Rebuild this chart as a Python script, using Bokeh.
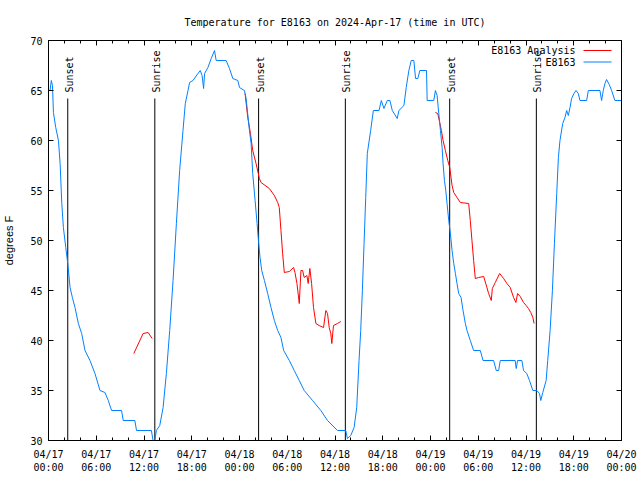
import math
from bokeh.plotting import figure
from bokeh.models import Range1d, FixedTicker, LinearAxis, Label, Arrow
from bokeh.core.properties import value
from bokeh.embed import file_html
from bokeh.resources import INLINE

title_text = "Temperature for E8163 on 2024-Apr-17 (time in UTC)"
y_label = "degrees F"

# x positions are hours since 2024-04-17 00:00 UTC
x_tick_hours = [0, 6, 12, 18, 24, 30, 36, 42, 48, 54, 60, 66, 72]
x_tick_labels = ["04/17\n00:00", "04/17\n06:00", "04/17\n12:00", "04/17\n18:00",
                 "04/18\n00:00", "04/18\n06:00", "04/18\n12:00", "04/18\n18:00",
                 "04/19\n00:00", "04/19\n06:00", "04/19\n12:00", "04/19\n18:00",
                 "04/20\n00:00"]
x_minor_hours = list(range(0, 73, 2))
y_ticks = [30, 35, 40, 45, 50, 55, 60, 65, 70]

obs_hours = [0.0, 0.2, 0.35, 0.5, 0.62, 0.91, 1.25, 1.46, 1.67, 1.87, 2.17, 2.42, 2.71, 3.0,
             3.33, 3.75, 4.17, 4.59, 5.21, 5.84, 6.47, 7.09, 7.51, 7.93, 9.18, 9.39, 10.85,
             11.06, 12.93, 13.14, 13.35, 13.56, 13.98, 14.4, 14.81, 15.23, 15.65, 16.07,
             16.48, 16.9, 17.19, 17.53, 17.73, 18.15, 18.78, 19.07, 19.3, 19.49, 19.61,
             20.03, 20.45, 20.86, 21.07, 22.32, 22.74, 23.16, 23.79, 24.0, 24.62, 24.83,
             25.25, 25.46, 25.66, 25.96, 26.21, 26.38, 26.58, 26.79, 27.13, 27.54, 27.96,
             28.38, 28.8, 29.21, 29.55, 30.26, 30.88, 31.51, 32.13, 33.18, 34.22, 35.06,
             36.31, 37.35, 37.56, 37.98, 38.4, 38.73, 39.02, 39.23, 39.44, 39.65, 39.86,
             40.06, 40.48, 40.82, 41.53, 41.82, 42.15, 42.57, 42.9, 43.2, 43.82, 44.03,
             44.66, 44.95, 45.28, 45.58, 45.91, 46.12, 46.41, 46.66, 47.5, 47.58, 48.41,
             48.62, 48.83, 49.04, 49.25, 49.46, 49.58, 49.75, 49.92, 50.08, 50.29, 50.5,
             50.71, 50.92, 51.13, 51.33, 51.54, 51.84, 52.09, 52.38, 52.59, 53.0, 53.42,
             54.26, 54.6, 55.93, 56.26, 56.56, 56.77, 58.64, 58.77, 58.94, 59.48, 59.69,
             60.1, 60.44, 60.86, 61.36, 61.7, 61.86, 62.11, 62.53, 62.73, 63.03, 63.32,
             63.57, 63.86, 64.07, 64.27, 64.61, 64.9, 65.11, 65.32, 65.53, 65.73, 66.03,
             66.28, 66.57, 66.78, 67.62, 67.83, 69.29, 69.5, 69.71, 69.92, 70.12, 70.46,
             70.76, 71.17, 72.0]
obs_temp = [65, 65, 66, 65.5, 62.8, 61.3, 60, 57.7, 53.7, 51.3, 49.3, 47.7, 45.3, 44.3,
            43.3, 41.7, 40.7, 39, 38, 36.7, 35, 34.8, 34, 33, 33, 32, 32,
            31, 31, 30, 30, 31, 31.5, 33.3, 36.7, 41, 46, 51.7,
            57, 61, 63.7, 65, 65.8, 66, 66.7, 67, 66.5, 65.2, 66.7,
            67.3, 68.2, 69, 68, 68, 67.2, 66.2, 66, 65.3, 65, 64.2,
            61, 59.7, 56.7, 54, 51.7, 50, 48.3, 47, 46, 44.7, 43.3,
            42, 41, 40.3, 39, 38, 37, 36, 35, 34, 33, 32,
            31, 31, 30.2, 30.5, 31.3, 33.3, 38, 41, 45, 49.7, 54.3,
            58.7, 61, 63, 63, 64, 63.2, 64, 64, 63, 62.2, 63,
            63.5, 65.3, 67, 68, 68, 66.2, 66.2, 67, 67, 64, 64,
            65, 64.5, 62.7, 61, 59.3, 57.7, 56, 55, 53.7, 52, 50.7,
            49, 47.7, 46.7, 45.7, 44.7, 44.3, 43, 41.7, 41, 40, 39,
            39, 38, 38, 37, 37, 38, 38, 37.2, 38, 38, 37,
            36.7, 36, 35, 35, 34.7, 34, 34.8, 36, 38, 41, 45,
            49.7, 54.7, 58.3, 60, 61.7, 62.3, 63, 62.5, 63.3, 64.2, 64.7,
            65, 64.7, 64, 64, 65, 65, 64, 65, 65.7, 66.1, 65.6,
            65, 64, 64]

nan = float("nan")
ana_hours = [10.72, 11.89, 12.52, 13.02, nan,
             24.7, 25.04, 25.38, 25.66, 26.08, 26.5, 26.71, 27.75, 28.38, 28.8, 29.0, 29.21,
             29.42, 29.63, 30.26, 30.8, 30.97, 31.22, 31.51, 31.72, 31.93, 32.13, 32.47,
             32.63, 32.84, 33.06, 33.3, 33.6, 34.0, 34.56, 34.85, 35.06, 35.27, 35.47, 35.6,
             35.81, 36.31, 36.73, nan,
             48.62, 48.91, 49.16, 49.37, 49.58, 49.87, 50.17, 50.42, 50.58, 50.71, 50.92,
             51.33, 51.75, 52.8, 53.0, 53.21, 53.42, 53.63, 54.05, 54.68, 55.09, 55.3, 55.64,
             55.77, 56.14, 56.69, 57.19, 57.6, 58.02, 58.44, 58.73, 58.94, 59.27, 59.69,
             60.02, 60.31, 60.6, 60.86, 61.02]
ana_temp = [38.7, 40.7, 40.8, 40.2, nan,
            64.7, 62.3, 60.7, 59.0, 57.7, 56.2, 55.8, 55.2, 54.5, 53.8, 53.3, 51.0,
            48.7, 46.8, 46.9, 47.3, 46.8, 45.7, 43.7, 47.0, 47.0, 46.3, 46.5,
            45.7, 47.2, 45.7, 43.3, 41.7, 41.5, 41.3, 43.0, 42.7, 41.3, 40.7, 39.7,
            41.5, 41.7, 41.9, nan,
            62.8, 62.7, 61.8, 61.0, 60.0, 59.0, 58.0, 57.3, 56.3, 55.5, 54.8,
            54.3, 53.8, 53.7, 52.0, 50.0, 48.0, 46.2, 46.3, 46.4, 45.3, 44.7, 44.0,
            45.2, 45.8, 46.7, 46.2, 45.7, 45.3, 44.3, 43.8, 44.7, 44.4, 43.8,
            43.5, 43.2, 42.8, 42.3, 41.7]

sunset_hours = [2.42, 26.40, 50.41]
sunrise_hours = [13.36, 37.30, 61.30]
sun_line_top = 64.2
sun_label_y = 64.8

legend_labels = ["E8163 Analysis", "E8163"]
legend_colors = ["#ff0000", "#0080ff"]

MONO = "DejaVu Sans Mono"

p = figure(width=640, height=480, output_backend="svg", toolbar_location=None,
           x_range=Range1d(0, 72), y_range=Range1d(30, 70),
           min_border_left=46, min_border_right=19, min_border_top=40, min_border_bottom=40)
p.background_fill_color = "white"
p.border_fill_color = "white"
p.outline_line_color = "black"
p.outline_line_width = 1
p.grid.visible = False

p.title.text = title_text
p.title.text_font = MONO
p.title.text_font_size = "10px"
p.title.text_font_style = "normal"
p.title.text_color = "black"
p.title.align = "center"
p.title.standoff = 25

xt = FixedTicker(ticks=x_tick_hours, minor_ticks=x_minor_hours)
yt = FixedTicker(ticks=y_ticks, minor_ticks=[])

xa = p.xaxis[0]
xa.ticker = xt
xa.major_label_overrides = {h: lab for h, lab in zip(x_tick_hours, x_tick_labels)}
ya = p.yaxis[0]
ya.ticker = yt
ya.axis_label = y_label
ya.axis_label_text_font = "Liberation Sans"
ya.axis_label_text_font_size = "11px"
ya.axis_label_text_font_style = "normal"
ya.axis_label_text_color = "black"
ya.axis_label_standoff = 12

for ax in (xa, ya):
    ax.major_label_text_font = MONO
    ax.major_label_text_font_size = "10px"
    ax.major_label_text_color = "black"
    ax.axis_line_color = "black"
    ax.major_tick_in = 5
    ax.major_tick_out = 0
    ax.minor_tick_in = 3
    ax.minor_tick_out = 0
    ax.major_tick_line_color = "black"
    ax.minor_tick_line_color = "black"
xa.major_label_standoff = 8
ya.major_label_standoff = 6

top = LinearAxis(ticker=xt, major_label_overrides={h: "" for h in x_tick_hours},
                 major_tick_in=5, major_tick_out=0, minor_tick_in=3, minor_tick_out=0,
                 major_label_standoff=0, major_label_text_font_size="1px")
right = LinearAxis(ticker=yt, major_label_overrides={t: "" for t in y_ticks},
                   major_tick_in=5, major_tick_out=0, minor_tick_in=0, minor_tick_out=0,
                   major_label_standoff=0, major_label_text_font_size="1px")
p.add_layout(top, "above")
p.add_layout(right, "right")

# sunrise / sunset markers
p.segment(x0=sunset_hours, y0=[30] * 3, x1=sunset_hours, y1=[sun_line_top] * 3,
          line_color="black", line_width=1)
p.segment(x0=sunrise_hours, y0=[30] * 3, x1=sunrise_hours, y1=[sun_line_top] * 3,
          line_color="black", line_width=1)
p.text(x=sunset_hours, y=[sun_label_y] * 3, text=["Sunset"] * 3, angle=math.pi / 2,
       text_align="left", text_baseline="middle", x_offset=1.5,
       text_font=value(MONO), text_font_size="10px", text_color="black")
p.text(x=sunrise_hours, y=[sun_label_y] * 3, text=["Sunrise"] * 3, angle=math.pi / 2,
       text_align="left", text_baseline="middle", x_offset=1.5,
       text_font=value(MONO), text_font_size="10px", text_color="black")

p.line(ana_hours, ana_temp, line_color=legend_colors[0], line_width=1)
p.line(obs_hours, obs_temp, line_color=legend_colors[1], line_width=1)

# legend (text left, sample right, as in gnuplot)
for i, (lab, col) in enumerate(zip(legend_labels, legend_colors)):
    sy = 390 - i * 11.5
    p.add_layout(Label(x=527, y=sy, x_units="screen", y_units="screen", text=lab,
                       text_align="right", text_baseline="middle",
                       text_font=MONO, text_font_size="10px", text_color="black"))
    p.add_layout(Arrow(x_start=535, y_start=sy, x_end=563, y_end=sy,
                       start_units="screen", end_units="screen", end=None,
                       line_color=col, line_width=1))

open("out.html", "w").write(file_html(p, INLINE))
